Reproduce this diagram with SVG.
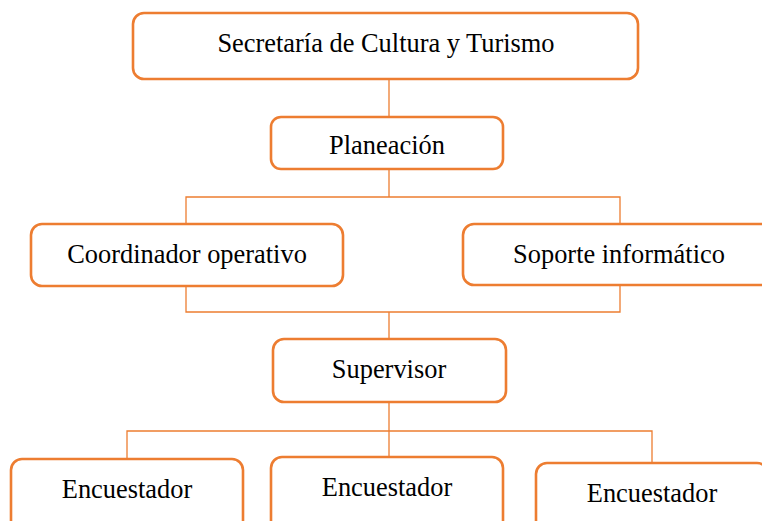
<svg xmlns="http://www.w3.org/2000/svg" width="762" height="521" viewBox="0 0 762 521">
<style>
.box{fill:#FFFFFF;stroke:#ED7D31;stroke-width:2.6}
.lbl{font-family:"Liberation Serif","Times New Roman",serif;font-size:26.4px;fill:#000000;text-anchor:middle}
.con{fill:none;stroke:#ED7D31;stroke-width:1.3}
</style>
<rect width="762" height="521" fill="#FFFFFF"/>
<g id="connectors">
<path class="con" d="M389 79V117"/>
<path class="con" d="M389 169V197M186 224V197H620V224"/>
<path class="con" d="M186 286V312H620V285M389 312V339"/>
<path class="con" d="M389 402V431M127 459V431H652V463M389 431V457"/>
</g>
<g id="n-secretaria">
<rect class="box" x="133" y="13" width="505" height="66" rx="11"/>
<text class="lbl" x="386" y="52">Secretaría de Cultura y Turismo</text>
</g>
<g id="n-planeacion">
<rect class="box" x="271" y="117" width="232" height="52" rx="10"/>
<text class="lbl" x="387" y="154">Planeación</text>
</g>
<g id="n-coordinador">
<rect class="box" x="31" y="224" width="312" height="62" rx="11"/>
<text class="lbl" x="187" y="263">Coordinador operativo</text>
</g>
<g id="n-soporte">
<rect class="box" x="463" y="224" width="312" height="61" rx="11"/>
<text class="lbl" x="619" y="263">Soporte informático</text>
</g>
<g id="n-supervisor">
<rect class="box" x="273" y="339" width="233" height="63" rx="11"/>
<text class="lbl" x="389" y="378">Supervisor</text>
</g>
<g id="n-encuestador1">
<rect class="box" x="11" y="459" width="232" height="80" rx="11"/>
<text class="lbl" x="127" y="498">Encuestador</text>
</g>
<g id="n-encuestador2">
<rect class="box" x="271" y="457" width="232" height="80" rx="11"/>
<text class="lbl" x="387" y="496">Encuestador</text>
</g>
<g id="n-encuestador3">
<rect class="box" x="536" y="463" width="232" height="80" rx="11"/>
<text class="lbl" x="652" y="502">Encuestador</text>
</g>
</svg>
